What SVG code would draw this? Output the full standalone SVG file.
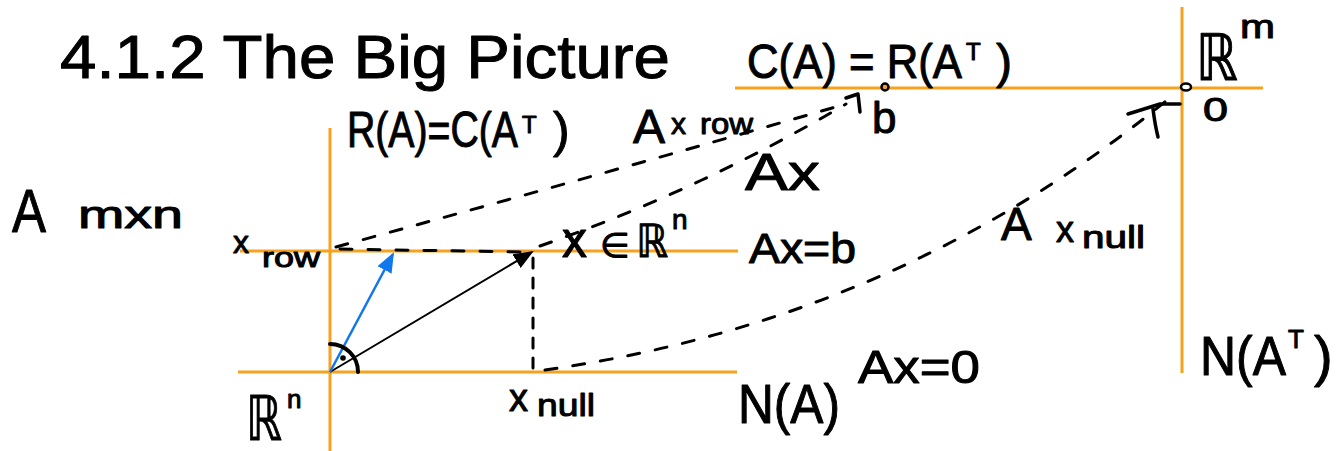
<svg xmlns="http://www.w3.org/2000/svg" width="1343" height="451" viewBox="0 0 1343 451">
<defs>
<style>
.t{font-family:"Liberation Sans","DejaVu Sans",sans-serif;fill:#000;stroke:#000;stroke-width:1;stroke-linejoin:round}
.ax{stroke:#f6a21e;stroke-width:3;fill:none}
.dash{stroke:#000;stroke-width:3;fill:none;stroke-dasharray:12 16;stroke-linecap:round}
.hand{stroke:#000;stroke-width:3.5;fill:none;stroke-linecap:round;stroke-linejoin:round}
</style>
<marker id="hBlack" viewBox="0 0 20 16" refX="18" refY="8" markerWidth="20" markerHeight="16" markerUnits="userSpaceOnUse" orient="auto"><path d="M0,0 L20,8 L0,16 Z" fill="#000"/></marker>
<marker id="hBlue" viewBox="0 0 20 16" refX="18" refY="8" markerWidth="20" markerHeight="16" markerUnits="userSpaceOnUse" orient="auto"><path d="M0,0 L20,8 L0,16 Z" fill="#1177ee"/></marker>
</defs>
<rect width="1343" height="451" fill="#fff"/>

<g id="title"><text class="t" x="60" y="78" font-size="62" textLength="610" lengthAdjust="spacingAndGlyphs">4.1.2 The Big Picture</text></g>

<g id="axes">
<line class="ax" x1="330" y1="128" x2="330" y2="451"/>
<line class="ax" x1="240" y1="251" x2="738" y2="251"/>
<line class="ax" x1="238" y1="372" x2="737" y2="372"/>
<line class="ax" x1="735" y1="88" x2="1263" y2="88"/>
<line class="ax" x1="1182" y1="7" x2="1182" y2="373"/>
</g>

<g id="connectors">
<path class="dash" d="M336,247 Q600,175 846,104"/>
<path class="dash" d="M540,246 Q700,190 846,104"/>
<path class="dash" d="M340,249 L520,252"/>
<path class="dash" d="M533,258 L533,372" style="stroke-dasharray:10 10"/>
<path class="dash" d="M545,370 Q900,320 1172,96"/>
<path class="hand" d="M846,98 L858,94 L860,112"/>
<path class="hand" d="M1128,114 L1160,104 L1180,104"/>
<path class="hand" d="M1153,109 Q1155,125 1158,137"/>
<line x1="330" y1="372" x2="532" y2="252" stroke="#000" stroke-width="2" marker-end="url(#hBlack)"/>
<line x1="330" y1="372" x2="393" y2="254" stroke="#1177ee" stroke-width="2.5" marker-end="url(#hBlue)"/>
<path d="M330,344 A28,28 0 0 1 358,372" stroke="#000" stroke-width="4" fill="none" stroke-linecap="round"/>
<circle cx="343" cy="358" r="2.8" fill="#000"/>
</g>

<g id="point-b"><circle cx="885" cy="87" r="3.5" fill="#f6a21e" stroke="#000" stroke-width="2.5"/><text class="t" x="872" y="133" font-size="44">b</text></g>
<g id="point-0"><ellipse cx="1186" cy="87" rx="5" ry="3.5" fill="#fff" stroke="#000" stroke-width="2.5"/><text class="t" x="1203" y="121" font-size="34" textLength="25" lengthAdjust="spacingAndGlyphs">0</text></g>

<g id="label-CA"><text class="t" font-size="48"><tspan x="747" y="78" textLength="215" lengthAdjust="spacingAndGlyphs">C(A) = R(A</tspan><tspan x="966" y="60" font-size="24">T</tspan><tspan x="996" y="78">)</tspan></text></g>
<g id="label-Rm"><text class="t" font-size="64"><tspan x="1196" y="80" textLength="42" lengthAdjust="spacingAndGlyphs">ℝ</tspan><tspan x="1240" y="38" font-size="34" textLength="35" lengthAdjust="spacingAndGlyphs">m</tspan></text></g>
<g id="label-RA"><text class="t" font-size="50"><tspan x="347" y="147" textLength="171" lengthAdjust="spacingAndGlyphs">R(A)=C(A</tspan><tspan x="522" y="133" font-size="24">T</tspan><tspan x="553" y="147">)</tspan></text></g>
<g id="label-Axrow"><text class="t" font-size="48"><tspan x="633" y="143">A</tspan><tspan x="671" y="134" font-size="30">x</tspan><tspan x="700" y="134" font-size="30" textLength="53" lengthAdjust="spacingAndGlyphs">row</tspan></text></g>
<g id="label-Ax"><text class="t" x="745" y="190" font-size="52" textLength="75" lengthAdjust="spacingAndGlyphs">Ax</text></g>
<g id="label-Amxn"><text class="t" font-size="62"><tspan x="12" y="232" textLength="34" lengthAdjust="spacingAndGlyphs">A</tspan><tspan x="78" y="228" font-size="38" textLength="105" lengthAdjust="spacingAndGlyphs">mxn</tspan></text></g>
<g id="label-xrow"><text class="t" font-size="32"><tspan x="233" y="253">x</tspan><tspan x="262" y="267" font-size="28" textLength="58" lengthAdjust="spacingAndGlyphs">row</tspan></text></g>
<g id="label-x"><text class="t" font-size="50"><tspan x="562" y="257">x</tspan><tspan x="600" y="257" font-size="34">∈</tspan><tspan x="636" y="257" font-size="46" textLength="32" lengthAdjust="spacingAndGlyphs">ℝ</tspan><tspan x="672" y="229" font-size="28">n</tspan></text></g>
<g id="label-Axb"><text class="t" x="749" y="263" font-size="42" textLength="107" lengthAdjust="spacingAndGlyphs">Ax=b</text></g>
<g id="label-Rn"><text class="t" font-size="62"><tspan x="246" y="440" textLength="36" lengthAdjust="spacingAndGlyphs">ℝ</tspan><tspan x="287" y="408" font-size="26">n</tspan></text></g>
<g id="label-xnull"><text class="t" font-size="38"><tspan x="509" y="411">x</tspan><tspan x="537" y="416" font-size="32" textLength="58" lengthAdjust="spacingAndGlyphs">null</tspan></text></g>
<g id="label-NA"><text class="t" x="738" y="423" font-size="56" textLength="102" lengthAdjust="spacingAndGlyphs">N(A)</text></g>
<g id="label-Ax0"><text class="t" x="858" y="383" font-size="46" textLength="122" lengthAdjust="spacingAndGlyphs">Ax=0</text></g>
<g id="label-Axnull"><text class="t" font-size="46"><tspan x="1001" y="240">A</tspan><tspan x="1056" y="242" font-size="36">x</tspan><tspan x="1082" y="248" font-size="32" textLength="63" lengthAdjust="spacingAndGlyphs">null</tspan></text></g>
<g id="label-NAT"><text class="t" font-size="56"><tspan x="1200" y="375" textLength="86" lengthAdjust="spacingAndGlyphs">N(A</tspan><tspan x="1288" y="348" font-size="26">T</tspan><tspan x="1314" y="375">)</tspan></text></g>
</svg>
